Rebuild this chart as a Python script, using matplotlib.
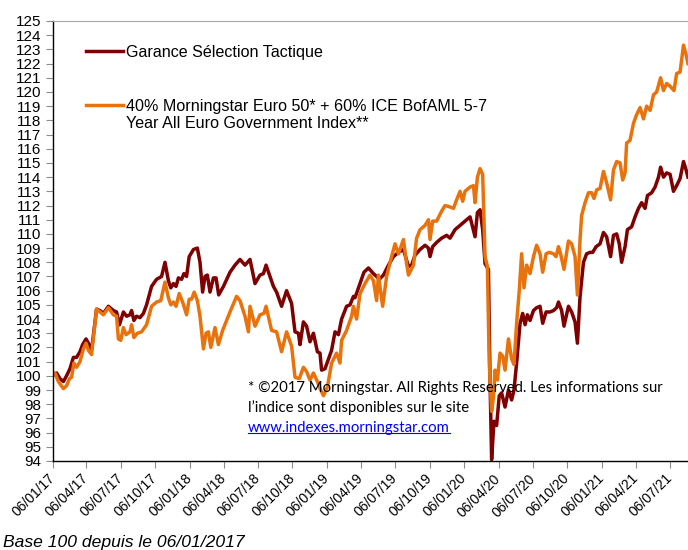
import numpy as np
import pandas as pd
import matplotlib
matplotlib.use('Agg')
import matplotlib.pyplot as plt
from matplotlib.lines import Line2D

plt.rcParams['font.family'] = ['Liberation Sans', 'DejaVu Sans']

# weekly data, base 100 on 06/01/2017 -- x given as weeks since that date
base = pd.Timestamp('2017-01-06')

garance_weeks = [0, 1.5, 2.8, 4.1, 5.3, 6.6, 7.9, 9.1, 10.4, 11.4,
                 12.7, 13.6, 14.8, 16.7, 18.0, 19.3, 21.2, 23.1, 24.3, 25.4,
                 26.9, 28.1, 29.4, 30.0, 30.9, 31.9, 33.2, 34.5, 35.7, 37.6,
                 39.5, 41.4, 42.7, 44.0, 44.9, 45.9, 46.9, 47.8, 49.0, 49.9,
                 50.9, 51.9, 53.5, 55.0, 56.0, 57.0, 57.9, 58.8, 59.8, 61.1,
                 62.1, 63.1, 64.9, 67.4, 69.3,
                 71.2, 73.1, 75.0, 76.9, 78.8, 80.1, 81.1, 83.9, 85.1, 87.0,
                 88.9, 90.8, 92.1, 93.4, 94.0, 95.3, 96.5, 97.8, 99.1, 100.6,
                 101.6, 102.2, 103.5, 106.0, 107.3, 108.6, 109.8, 111.7, 113.0, 114.3,
                 114.9, 116.8, 118.3, 120.0, 121.9, 123.1, 124.1, 125.7, 127.6, 129.5,
                 131.4, 133.3, 135.2, 136.4, 137.7, 139.6, 141.5, 142.8, 143.4, 144.4,
                 145.9, 147.8, 149.7, 151.0, 152.9, 154.8, 156.7,
                 158.6, 160.5, 161.4, 162.4, 163.4, 164.3, 165.6, 166.2, 166.8, 167.7,
                 168.7, 169.7, 170.6, 171.9, 173.2, 174.4, 175.3, 176.3, 177.6, 178.6,
                 179.5, 180.4, 181.4, 182.7, 183.9, 185.2, 186.2, 187.5, 189.0, 190.3,
                 191.5, 192.2, 193.4, 194.3, 196.0, 197.2, 198.5, 199.4, 200.4, 201.7,
                 202.9, 204.2, 205.2, 206.5, 208.0, 209.3, 210.5, 212.0, 213.1, 214.3,
                 215.3, 216.2, 217.5, 218.4, 220.0, 221.3, 222.6, 223.8, 225.1, 226.0,
                 227.6, 228.9, 230.2, 231.0, 232.1, 233.3, 234.6, 235.9, 237.1, 238.4,
                 239.7, 240.7, 241.4]
garance_vals = [100.0, 100.2, 99.8, 99.6, 100.0, 100.5, 101.3, 101.3, 101.7, 102.2,
                102.6, 102.3, 101.8, 104.7, 104.6, 104.4, 104.9, 104.6, 104.5, 103.6,
                104.5, 104.2, 104.3, 104.6, 103.9, 104.2, 104.1, 104.4, 105.0, 106.3,
                106.8, 107.0, 108.0, 106.7, 106.2, 106.5, 106.3, 106.9, 106.8, 107.2,
                107.0, 108.4, 108.9, 109.0, 108.0, 105.9, 107.0, 107.1, 105.9, 106.9,
                106.9, 105.7, 106.3, 107.3, 107.8,
                108.2, 107.8, 108.2, 106.5, 107.1, 107.2, 107.8, 106.3, 105.9, 104.9,
                106.0, 105.1, 103.1, 103.0, 102.2, 103.8, 103.5, 102.4, 103.0, 101.7,
                101.6, 100.4, 100.5, 101.8, 103.1, 102.9, 104.0, 104.9, 105.0, 105.6,
                105.5, 106.5, 107.3, 107.6, 107.2, 107.0, 106.8, 107.1, 107.8, 108.4,
                108.7, 108.9, 107.7, 107.8, 108.5, 108.9, 109.2, 109.0, 108.4, 109.1,
                109.4, 109.7, 109.9, 109.7, 110.3, 110.6, 110.9,
                111.2, 109.8, 111.5, 111.7, 110.3, 107.9, 107.5, 99.7, 94.1, 96.8,
                96.5, 98.6, 98.8, 97.8, 99.0, 98.3, 99.0, 100.9, 103.7, 104.4,
                103.6, 104.3, 103.9, 104.6, 104.8, 104.9, 103.7, 104.5, 104.5, 104.6,
                104.8, 105.2, 104.6, 103.5, 104.9, 104.5, 103.8, 102.3, 105.6, 108.0,
                108.6, 108.7, 108.7, 109.1, 109.3, 110.1, 109.8, 108.4, 109.9, 110.0,
                109.3, 108.0, 109.1, 110.3, 110.5, 111.2, 111.8, 112.2, 111.8, 112.7,
                112.9, 113.3, 114.0, 114.7, 114.0, 114.3, 114.2, 113.0, 113.4, 113.9,
                115.1, 114.5, 114.0]

bench_weeks = [0, 0.9, 2.2, 4.1, 5.3, 6.4, 7.2, 8.1, 9.1, 10.4,
               11.7, 12.7, 13.6, 14.8, 16.7, 18.0, 19.3, 21.2, 23.1, 24.3,
               25.0, 25.9, 26.9, 27.9, 29.4, 30.0, 30.9, 32.2, 33.8, 35.7,
               37.6, 39.5, 41.1, 42.7, 44.0, 44.9, 45.9, 46.9, 48.1, 49.4,
               50.9, 51.9, 52.8, 53.8, 55.0, 56.0, 57.3, 58.3, 59.2, 60.1,
               61.7, 63.0, 64.6, 67.4, 69.9,
               71.2, 73.1, 74.4, 75.0, 76.9, 78.8, 80.3, 81.1, 83.2, 85.1,
               87.0, 88.9, 90.8, 92.1, 93.7, 95.3, 96.5, 97.8, 99.1, 100.6,
               101.6, 102.9, 104.4, 106.0, 107.9, 109.2, 109.8, 111.7, 113.6, 114.3,
               115.5, 116.8, 118.7, 120.6, 121.9, 123.1, 123.8, 125.4, 126.9, 128.8,
               130.1, 131.4, 133.3, 134.5, 135.2, 137.1, 138.3, 139.6, 141.5, 142.8,
               143.4, 144.4, 145.9, 147.8, 149.1, 151.0, 152.3, 153.5, 154.8, 155.8,
               156.7,
               158.6, 159.9, 160.5, 161.4, 162.4, 163.4, 164.3, 165.2, 165.9, 166.8,
               167.5, 168.1, 169.0, 170.0, 171.0, 171.9, 173.2, 174.4, 175.3, 176.3,
               177.3, 178.2, 179.1, 180.1, 181.4, 182.7, 183.9, 185.2, 186.2, 187.5,
               188.7, 190.3, 191.3, 192.2, 193.0, 194.3, 196.0, 197.2, 198.5, 199.4,
               200.4, 201.0, 202.3, 203.6, 204.8, 205.7, 206.7, 208.0, 209.3, 210.5,
               212.0, 213.1, 214.3, 215.6, 216.6, 217.5, 218.1, 219.4, 220.7, 221.9,
               223.2, 224.5, 225.7, 227.0, 228.3, 229.5, 231.0, 232.1, 233.3, 234.6,
               236.1, 237.1, 238.4, 239.7, 240.7, 241.4]
bench_vals = [100.0, 100.2, 99.6, 99.1, 99.3, 99.8, 99.9, 100.9, 100.6, 101.0,
              101.9, 102.3, 101.8, 101.5, 104.7, 104.5, 104.3, 104.8, 104.3, 104.2,
              102.6, 102.5, 103.4, 102.9, 103.1, 103.6, 102.7, 103.0, 103.1, 103.6,
              104.9, 105.2, 105.3, 106.6, 105.5, 105.0, 105.2, 104.9, 105.8, 105.2,
              104.3, 105.4, 105.4, 105.9, 105.3, 104.2, 101.9, 103.0, 103.1, 102.0,
              103.4, 102.2, 103.2, 104.5, 105.6,
              105.3, 104.2, 103.1, 104.9, 103.5, 104.3, 104.4, 104.9, 103.2, 103.1,
              101.7, 103.1, 102.1, 99.9, 99.8, 100.6, 100.3, 99.7, 100.2, 99.6,
              99.1, 98.6, 99.2, 100.9, 101.6, 100.9, 102.5, 103.2, 104.2, 104.9,
              104.0, 105.8, 106.5, 107.1, 106.7, 105.3, 107.1, 104.9, 107.0, 108.4,
              109.3, 108.6, 109.6, 107.9, 107.1, 107.8, 109.7, 110.3, 110.6, 111.0,
              109.6, 110.9, 110.9, 111.6, 112.0, 111.9, 111.8, 112.4, 113.0, 112.3,
              113.0,
              113.3, 113.4, 112.2, 114.0, 114.6, 114.2, 108.4, 107.7, 100.9, 97.5,
              98.5, 100.4, 99.7, 101.6, 101.4, 100.4, 102.6, 101.2, 100.8, 103.7,
              106.0, 108.6, 106.2, 107.8, 107.2, 108.4, 109.2, 108.6, 107.3, 108.6,
              108.7, 108.6, 108.4, 109.1, 108.6, 107.5, 109.5, 109.3, 108.4, 105.7,
              109.6, 111.3, 112.2, 112.9, 112.9, 112.5, 113.1, 113.2, 114.4, 113.6,
              112.4, 114.5, 115.1, 115.0, 113.8, 114.3, 116.4, 116.6, 117.8, 118.4,
              118.9, 118.1, 119.0, 118.7, 119.8, 120.0, 121.0, 120.1, 120.6, 120.4,
              120.1, 121.3, 121.4, 123.3, 122.6, 122.0]

tick_labels = ['06/01/17', '06/04/17', '06/07/17', '06/10/17',
               '06/01/18', '06/04/18', '06/07/18', '06/10/18',
               '06/01/19', '06/04/19', '06/07/19', '06/10/19',
               '06/01/20', '06/04/20', '06/07/20', '06/10/20',
               '06/01/21', '06/04/21', '06/07/21']

name_fund = 'Garance Sélection Tactique'
name_bench = '40% Morningstar Euro 50* + 60% ICE BofAML 5-7'
name_bench2 = 'Year All Euro Government Index**'

W, H = 688, 550
fig = plt.figure(figsize=(W / 100, H / 100), dpi=100)
x0, y_top, y_bot, x_end = 52.6, 21, 461, 700
ax = fig.add_axes([x0 / W, 1 - y_bot / H, (x_end - x0) / W, (y_bot - y_top) / H])

g_dates = base + pd.to_timedelta(np.array(garance_weeks) * 7, unit='D')
b_dates = base + pd.to_timedelta(np.array(bench_weeks) * 7, unit='D')

red = '#7E0000'
orange = '#E8720C'
l1, = ax.plot(g_dates, garance_vals, color=red, lw=2.5, solid_joinstyle='round')
l2, = ax.plot(b_dates, bench_vals, color=orange, lw=2.5, solid_joinstyle='round')

ax.set_ylim(94, 125)
ax.set_yticks(range(94, 126))
ax.set_xlim(base, base + pd.Timedelta(days=(x_end - x0) / 0.376))
tick_pos = pd.to_datetime(tick_labels, format='%d/%m/%y')
ax.set_xticks(tick_pos)
ax.set_xticklabels(tick_labels, rotation=45, ha='right', va='center',
                   rotation_mode='anchor')
ax.tick_params(axis='both', color='#8C8C8C', length=5, width=0.8)
ax.tick_params(axis='y', labelsize=11, pad=3)
ax.tick_params(axis='x', labelsize=10, pad=6)
ax.spines['top'].set_color('#A6A6A6')
ax.spines['right'].set_visible(False)
ax.spines['left'].set_linewidth(1.0)
ax.spines['bottom'].set_linewidth(1.0)

ax.legend([l1, l2], [name_fund, name_bench], loc='upper left',
          bbox_to_anchor=(86 / W, 1 - 45 / H), bbox_transform=fig.transFigure,
          frameon=False, borderpad=0, borderaxespad=0, handlelength=2.3,
          handletextpad=0.19, labelspacing=2.39, fontsize=11.6)
fig.text(126 / W, 1 - 124 / H, name_bench2, fontsize=11.6, va='center')

note_font = ['Lato', 'DejaVu Sans']
fig.text(248 / W, 1 - 388 / H,
         '* \u00a92017 Morningstar. All Rights Reserved. Les informations sur',
         fontsize=10.7, va='center', family=note_font)
fig.text(248 / W, 1 - 408 / H, 'l\u2019indice sont disponibles sur le site',
         fontsize=10.7, va='center', family=note_font)
link = fig.text(248 / W, 1 - 428 / H, 'www.indexes.morningstar.com',
                fontsize=10.7, va='center', family=note_font, color='#0000FF')

fig.text(3 / W, 1 - 542 / H, 'Base 100 depuis le 06/01/2017', fontsize=12.6,
         style='italic', va='center')

fig.canvas.draw()
bb = link.get_window_extent()
fig.add_artist(Line2D([bb.x0 / W, bb.x1 / W], [(bb.y0 + 2) / H] * 2,
                      transform=fig.transFigure, color='#0000FF', lw=0.8))

fig.savefig('out.png', dpi=100)
